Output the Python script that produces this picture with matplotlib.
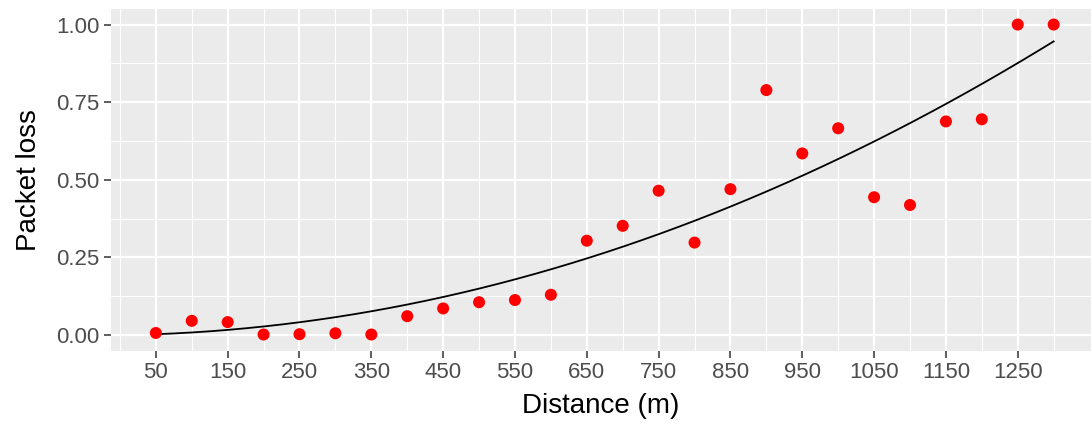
import numpy as np
import matplotlib
matplotlib.use("Agg")
import matplotlib.pyplot as plt
from matplotlib.ticker import FixedLocator

distance = [50, 100, 150, 200, 250, 300, 350, 400, 450, 500, 550, 600, 650,
            700, 750, 800, 850, 900, 950, 1000, 1050, 1100, 1150, 1200, 1250, 1300]
packet_loss = [0.007, 0.046, 0.042, 0.002, 0.003, 0.006, 0.002, 0.061, 0.086,
               0.106, 0.113, 0.130, 0.304, 0.352, 0.465, 0.298, 0.470, 0.789,
               0.585, 0.666, 0.444, 0.419, 0.688, 0.695, 1.0, 1.0]

x_major = list(range(50, 1300, 100))
x_minor = list(range(0, 1301, 100))
y_major = [0.0, 0.25, 0.5, 0.75, 1.0]
y_minor = [0.125, 0.375, 0.625, 0.875]

plt.rcParams['font.family'] = ['Liberation Sans', 'DejaVu Sans']

fig = plt.figure(figsize=(10.91, 4.23), dpi=100)
ax = fig.add_axes([0.1017, 0.171, 0.8983, 0.8077])
ax.set_facecolor('#EBEBEB')
for s in ax.spines.values():
    s.set_visible(False)

# smoother: least squares y ~ 0 + x + x^2 (no intercept)
x = np.array(distance, dtype=float)
y = np.array(packet_loss)
b, c = np.linalg.lstsq(np.vstack([x, x ** 2]).T, y, rcond=None)[0]
xs = np.linspace(x.min(), x.max(), 200)
ax.plot(xs, b * xs + c * xs ** 2, color='black', lw=1.3, zorder=3)
ax.scatter(x, y, s=75, color='red', edgecolors='none', zorder=4)

ax.set_xlim(-12.5, 1352)
ax.set_ylim(-0.05, 1.05)
ax.xaxis.set_major_locator(FixedLocator(x_major))
ax.xaxis.set_minor_locator(FixedLocator(x_minor))
ax.yaxis.set_major_locator(FixedLocator(y_major))
ax.yaxis.set_minor_locator(FixedLocator(y_minor))
ax.set_yticklabels(['%.2f' % v for v in y_major])

ax.grid(which='major', color='white', lw=1.6, zorder=0)
ax.grid(which='minor', color='white', lw=0.8, zorder=0)
ax.set_axisbelow(True)

ax.tick_params(which='major', length=5, width=1.1, color='#333333',
               labelsize=16, labelcolor='#4D4D4D', pad=3.5)
ax.tick_params(which='minor', length=0)

ax.set_xlabel('Distance (m)', fontsize=20, labelpad=7)
ax.set_ylabel('Packet loss', fontsize=20, labelpad=10)

fig.savefig('out.png', dpi=100)
